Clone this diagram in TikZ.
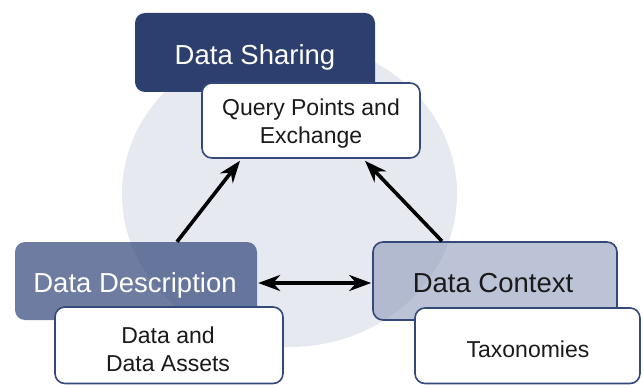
\documentclass[tikz,border=0pt]{standalone}
\usepackage{fontspec}
\setmainfont{Liberation Sans}
\usetikzlibrary{arrows.meta}
\definecolor{navy}{HTML}{2C3F6E}
\definecolor{navyline}{HTML}{34497A}
\definecolor{circfill}{HTML}{E7E9F0}
\definecolor{ddfill}{HTML}{2F4577}
\definecolor{dcfill}{HTML}{8F9BBB}
\definecolor{ink}{HTML}{1A1A1A}
\tikzset{
  x=1pt, y=-1pt,
  boxbase/.style={rectangle, rounded corners=10pt, inner sep=0pt},
  sharebox/.style={boxbase, fill=navy},
  whitebox/.style={boxbase, fill=white, draw=navyline, line width=1.6pt},
  descbox/.style={boxbase, fill=ddfill, fill opacity=0.7},
  ctxbox/.style={boxbase, fill=dcfill, fill opacity=0.6, draw=navyline, draw opacity=1, line width=1.6pt},
  headtext/.style={inner sep=0pt, anchor=base, font=\fontsize{27.5}{33}\selectfont},
  bodytext/.style={inner sep=0pt, anchor=north, align=center, text=ink, font=\fontsize{23}{28}\selectfont},
  tip/.tip={Stealth[length=22pt,width=16pt,inset=7pt]},
  arr/.style={line width=3.6pt, draw=black, -tip},
  arrtwo/.style={line width=3.6pt, draw=black, tip-tip},
}
\begin{document}
\begin{tikzpicture}
\useasboundingbox (0,0) rectangle (643,385);
% background circle
\fill[circfill] (289.5,194) ellipse [x radius=167.5pt, y radius=153pt];
% Data Sharing
\node[sharebox, minimum width=240pt, minimum height=79pt] (share) at (255,52.5) {};
\node[headtext, text=white] (shareT) at (255,65) {Data Sharing};
\node[whitebox, minimum width=218pt, minimum height=75pt] (qp) at (311,120.5) {};
\node[bodytext] (qpT) at (311,98.5) {Query Points and\\Exchange};
% Data Description
\node[descbox, minimum width=242pt, minimum height=78pt] (dd) at (136,281) {};
\node[headtext, text=white] (ddT) at (135,292) {Data Description};
\node[whitebox, minimum width=228pt, minimum height=76.5pt] (da) at (169,345.25) {};
\node[bodytext] (daT) at (168,326.5) {Data and\\Data Assets};
% Data Context
\node[ctxbox, minimum width=244pt, minimum height=78pt] (dc) at (495,281) {};
\node[headtext, text=ink] (dcT) at (493,292) {Data Context};
\node[whitebox, minimum width=225pt, minimum height=75.5pt] (tax) at (527.5,345.75) {};
\node[bodytext, anchor=base] (taxT) at (528,357) {Taxonomies};
% connectors
\draw[arr] ([xshift=41pt]dd.north) -- ([xshift=-71pt,yshift=-2pt]qp.south);
\draw[arr] ([xshift=-53pt]dc.north) -- ([xshift=54pt,yshift=-2pt]qp.south);
\draw[arrtwo] ([xshift=1pt,yshift=-2pt]dd.east) -- ([xshift=-1pt,yshift=-2pt]dc.west);
\end{tikzpicture}
\end{document}
